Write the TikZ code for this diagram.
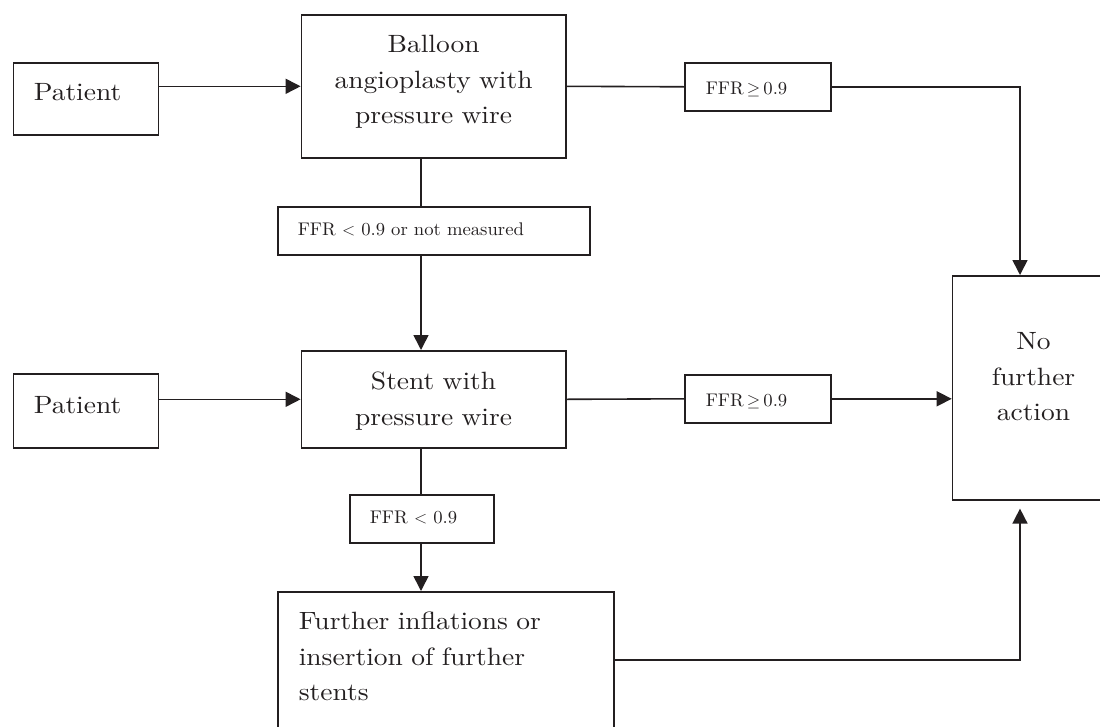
\documentclass[tikz,border=0pt]{standalone}
\usepackage{fontspec}
\setmainfont{lmroman10-regular.otf}
\newfontfamily\bigfont{lmroman10-regular.otf}[FakeStretch=1.1]
\newfontfamily\smallfont{lmroman10-regular.otf}[FakeStretch=1.02]
\usetikzlibrary{arrows.meta,positioning,calc}
\definecolor{ink}{HTML}{231F20}
\begin{document}
\begin{tikzpicture}[x=1pt,y=-1pt,
  box/.style={draw=ink,line width=1.6pt,rectangle,inner ysep=0pt,text=ink,
     font=\bigfont\fontsize{25}{35.5}\selectfont,anchor=north west},
  lab/.style={draw=ink,line width=1.6pt,rectangle,inner ysep=0pt,text=ink,
     font=\smallfont\fontsize{18.3}{22}\selectfont,anchor=north west,align=left},
  conn/.style={draw=ink,line width=1.6pt},
  arr/.style={conn,-{Triangle[length=15pt,width=15pt]}}]
\useasboundingbox (0,0) rectangle (1100,726);
\clip (0,0) rectangle (1100,726);
% main boxes
\node[box,align=left,inner xsep=20.4pt,text width=104.2pt,text height=38pt,text depth=34pt] (p1) at (12.6,62) {Patient};
\node[box,align=center,inner xsep=0pt,text width=264.4pt,text height=38pt,text depth=105pt] (bal) at (300.6,14) {Balloon\\angioplasty with\\pressure wire};
\node[box,align=left,inner xsep=20.4pt,text width=104.2pt,text height=40pt,text depth=34pt] (p2) at (12.6,373) {Patient};
\node[box,align=center,inner xsep=0pt,text width=264.4pt,text height=39pt,text depth=58pt] (st) at (300.6,350) {Stent with\\pressure wire};
\node[box,align=center,inner xsep=0pt,text width=162pt,text height=74pt,text depth=150pt] (nfa) at (951.7,275) {No\\further\\action};
\node[box,align=left,inner xsep=21pt,text width=294pt,text height=38pt,text depth=98pt] (fur) at (277,591) {Further inflations or\\insertion of further\\stents};
% label boxes
\node[lab,inner xsep=21pt,text width=104pt,text height=32pt,text depth=16pt] (g1) at (684,62) {FFR\,$\geq$\,0.9};
\node[lab,inner xsep=21pt,text width=104pt,text height=32pt,text depth=16pt] (g2) at (684,374) {FFR\,$\geq$\,0.9};
\node[lab,inner xsep=20pt,text width=272pt,text height=29pt,text depth=19pt] (l1) at (277,206) {FFR $<$ 0.9 or not measured};
\node[lab,inner xsep=20pt,text width=104pt,text height=29pt,text depth=19pt] (l2) at (349,494) {FFR $<$ 0.9};
% helper coordinates
\coordinate (vx) at (421,0);
\coordinate (nx) at (1020,0);
% connectors
\draw[arr] (p1.east |- bal.west) -- (bal.west);
\draw[arr] (p2.east |- st.west) -- (st.west);
\draw[conn] (bal.east) -- (g1.west);
\draw[arr] (g1.east) -| (nx |- nfa.north);
\draw[conn] (st.east) -- (g2.west);
\draw[arr] (g2.east) -- (nfa.west |- g2.east);
\draw[conn] (bal.south -| vx) -- (l1.north -| vx);
\draw[arr] (l1.south -| vx) -- (st.north -| vx);
\draw[conn] (st.south -| vx) -- (l2.north -| vx);
\draw[arr] (l2.south -| vx) -- (fur.north -| vx);
\draw[arr,shorten >=8pt] (fur.east) -| (nx |- nfa.south);
\end{tikzpicture}
\end{document}
